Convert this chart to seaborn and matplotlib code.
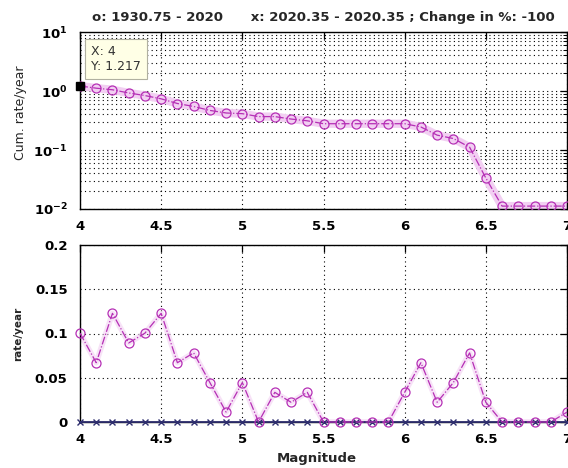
import numpy as np
import matplotlib
matplotlib.use("Agg")
import matplotlib.pyplot as plt
import seaborn as sns

# magnitude bins (0.1 steps)
magnitudes = [4.0, 4.1, 4.2, 4.3, 4.4, 4.5, 4.6, 4.7, 4.8, 4.9,
              5.0, 5.1, 5.2, 5.3, 5.4, 5.5, 5.6, 5.7, 5.8, 5.9,
              6.0, 6.1, 6.2, 6.3, 6.4, 6.5, 6.6, 6.7, 6.8, 6.9, 7.0]

# period o: 1930.75 - 2020, cumulative rate per year
cum_rate_o = [1.2165, 1.1161, 1.0491, 0.9263, 0.8371, 0.7366, 0.6138, 0.5469, 0.4688, 0.4241,
              0.4129, 0.3683, 0.3683, 0.3348, 0.3125, 0.2790, 0.2790, 0.2790, 0.2790, 0.2790,
              0.2790, 0.2455, 0.1786, 0.1563, 0.1116, 0.0335, 0.0112, 0.0112, 0.0112, 0.0112, 0.0112]

# period o: non-cumulative rate per year
rate_o = [0.1004, 0.0670, 0.1228, 0.0893, 0.1004, 0.1228, 0.0670, 0.0781, 0.0446, 0.0112,
          0.0446, 0.0, 0.0335, 0.0223, 0.0335, 0.0, 0.0, 0.0, 0.0, 0.0,
          0.0335, 0.0670, 0.0223, 0.0446, 0.0781, 0.0223, 0.0, 0.0, 0.0, 0.0, 0.0112]

# period x: 2020.35 - 2020.35 (no events)
rate_x = [0.0, 0.0, 0.0, 0.0, 0.0, 0.0, 0.0, 0.0, 0.0, 0.0,
          0.0, 0.0, 0.0, 0.0, 0.0, 0.0, 0.0, 0.0, 0.0, 0.0,
          0.0, 0.0, 0.0, 0.0, 0.0, 0.0, 0.0, 0.0, 0.0, 0.0, 0.0]

x_ticks = [4, 4.5, 5, 5.5, 6, 6.5, 7]
x_ticklabels = ['4', '4.5', '5', '5.5', '6', '6.5', '7']
top_yticks = [0.01, 0.1, 1, 10]
top_yticklabels = [r'$\mathbf{10^{-2}}$', r'$\mathbf{10^{-1}}$', r'$\mathbf{10^{0}}$', r'$\mathbf{10^{1}}$']
bot_yticks = [0, 0.05, 0.1, 0.15, 0.2]
bot_yticklabels = ['0', '0.05', '0.1', '0.15', '0.2']

title = 'o: 1930.75 - 2020      x: 2020.35 - 2020.35 ; Change in %: -100'

sns.set_style("white")
plt.rcParams['font.family'] = ['DejaVu Sans']
plt.rcParams['mathtext.fontset'] = 'dejavusans'

O_COLOR = '#b52fb5'
HALO = '#f2cff2'
X_COLOR = '#2e2e6e'
GRID = dict(color='black', linestyle=(0, (1, 3)), linewidth=0.8)

fig = plt.figure(figsize=(5.68, 4.68), dpi=100)
ax1 = fig.add_axes([80 / 568, 1 - 209 / 468, 487 / 568, 177 / 468])
ax2 = fig.add_axes([80 / 568, 1 - 422 / 468, 487 / 568, 177 / 468])

# --- top: cumulative rate, log scale
sns.lineplot(x=magnitudes, y=cum_rate_o, ax=ax1, color=HALO, linewidth=6, zorder=1)
sns.lineplot(x=magnitudes, y=cum_rate_o, ax=ax1, color=O_COLOR, linewidth=0.9,
             linestyle='-.', marker='o', markersize=6.5, markerfacecolor='none',
             markeredgecolor=O_COLOR, markeredgewidth=0.9, zorder=3)
ax1.set_yscale('log')
ax1.set_ylim(0.01, 10)
ax1.set_xlim(4, 7)
ax1.set_yticks(top_yticks)
ax1.set_yticklabels(top_yticklabels)
ax1.set_xticks(x_ticks)
ax1.set_xticklabels(x_ticklabels)
ax1.yaxis.set_minor_locator(matplotlib.ticker.LogLocator(base=10, subs=np.arange(2, 10)))
ax1.yaxis.set_minor_formatter(matplotlib.ticker.NullFormatter())
ax1.grid(True, which='major', axis='both', **GRID)
ax1.grid(True, which='minor', axis='y', **GRID)
ax1.set_ylabel('Cum. rate/year', fontsize=9)
ax1.yaxis.set_label_coords(-0.109, 0.545)
ax1.set_title(title, fontsize=9.5, fontweight='bold', pad=8)

# data tip
ax1.plot([magnitudes[0]], [cum_rate_o[0]], marker='s', color='black', markersize=6,
         clip_on=False, zorder=5)
fig.text(91 / 568, 1 - 59 / 468, 'X: 4\nY: 1.217', fontsize=9, color='#333333',
         va='center', ha='left', linespacing=1.2,
         bbox=dict(boxstyle='square,pad=0.45', facecolor='#ffffe6', edgecolor='#b0b0a0',
                   linewidth=0.8))

# --- bottom: non-cumulative rate
sns.lineplot(x=magnitudes, y=rate_o, ax=ax2, color=HALO, linewidth=4, alpha=0.6, zorder=1)
sns.lineplot(x=magnitudes, y=rate_x, ax=ax2, color=X_COLOR, linewidth=1.3,
             marker='x', markersize=5, markeredgewidth=1.0, markeredgecolor=X_COLOR,
             clip_on=False, zorder=3)
sns.lineplot(x=magnitudes, y=rate_o, ax=ax2, color=O_COLOR, linewidth=0.9,
             linestyle='-.', marker='o', markersize=6.5, markerfacecolor='none',
             markeredgecolor=O_COLOR, markeredgewidth=0.9, clip_on=False, zorder=4)
ax2.set_xlim(4, 7)
ax2.set_ylim(0, 0.2)
ax2.set_xticks(x_ticks)
ax2.set_xticklabels(x_ticklabels)
ax2.set_yticks(bot_yticks)
ax2.set_yticklabels(bot_yticklabels)
ax2.grid(True, which='major', axis='both', **GRID)
ax2.set_ylabel('rate/year', fontsize=7.5, fontweight='bold')
ax2.yaxis.set_label_coords(-0.117, 0.5)
ax2.set_xlabel('Magnitude', fontsize=9.5, fontweight='bold')
ax2.xaxis.set_label_coords(0.487, -0.168)

for ax in (ax1, ax2):
    ax.set_axisbelow(True)
    for sp in ax.spines.values():
        sp.set_color('black')
        sp.set_linewidth(1.0)
        sp.set_visible(True)
    ax.tick_params(which='both', direction='in', top=True, right=True,
                   labelsize=9.5, colors='black')
    ax.tick_params(axis='y', which='both', pad=9)
    ax.tick_params(axis='x', which='both', pad=8)
    ax.tick_params(which='major', length=5, width=0.9)
    ax.tick_params(which='minor', length=3, width=0.7)
    for lab in ax.get_xticklabels() + ax.get_yticklabels():
        lab.set_fontweight('bold')
    if ax.get_legend() is not None:
        ax.get_legend().remove()

fig.savefig('out.png', dpi=100, facecolor='white')
